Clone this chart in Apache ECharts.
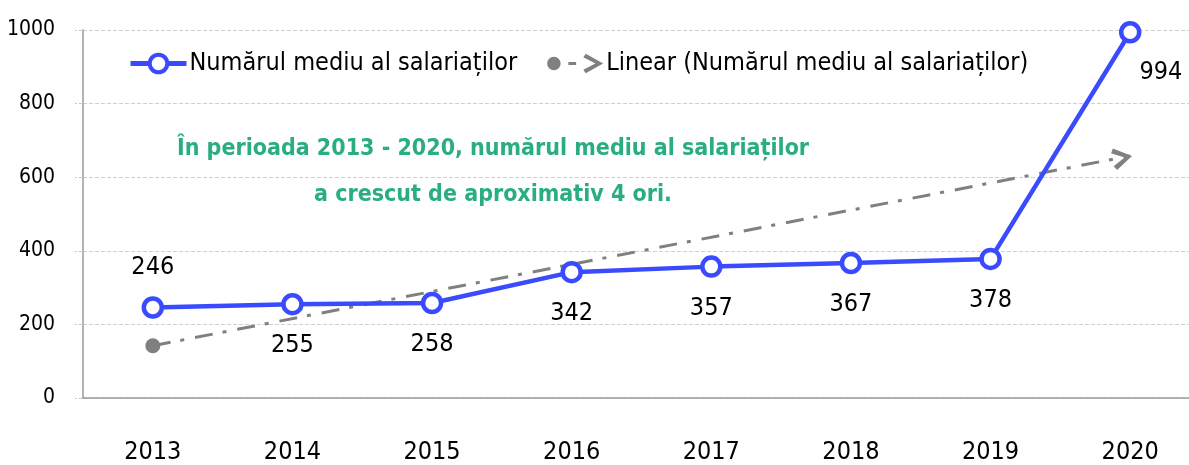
<!DOCTYPE html>
<html>
<head>
<meta charset="utf-8">
<script src="https://cdn.jsdelivr.net/npm/echarts@6/dist/echarts.min.js"></script>
<style>
html,body{margin:0;padding:0;background:#fff;}
#chart{width:1189px;height:465px;}
</style>
</head>
<body>
<div id="chart"></div>
<script>
// ---- data ----
const years = ['2013','2014','2015','2016','2017','2018','2019','2020'];
const employees = [246, 255, 258, 342, 357, 367, 378, 994];
// trend line end points (start 2013, end 2020)
const trendStart = 142;
const trendEnd = 658;
const yTicks = [0, 200, 400, 600, 800, 1000];
const seriesName = 'Numărul mediu al salariaților';
const trendName = 'Linear (Numărul mediu al salariaților)';
const noteLines = ['În perioada 2013 - 2020, numărul mediu al salariaților', 'a crescut de aproximativ 4 ori.'];

const FONT = '"DejaVu Sans Condensed", "DejaVu Sans", sans-serif';
const BLUE = '#3a4bff';
const GRAY = '#808080';
const GREEN = '#2aae80';

const chart = echarts.init(document.getElementById('chart'));

const trendData = years.map((y, i) => {
  if (i === 0) return { value: trendStart, symbol: 'circle', symbolSize: 15 };
  if (i === years.length - 1) return {
    value: trendEnd,
    symbol: 'path://M0,0 L16,9 L0,18 L-2.5,14.5 L9,9 L-2.5,3.5 Z',
    symbolSize: [20, 22],
    symbolRotate: 11,
    symbolOffset: [-8, 2]
  };
  return null;
});

const mainData = employees.map((v, i) => {
  let label;
  if (i === 0) label = { position: 'top', distance: 16 };
  else if (i === employees.length - 1) label = { position: 'right', offset: [-7, 40] };
  else label = { position: 'bottom', distance: 18 };
  return { value: v, label: label };
});

const option = {
  animation: false,
  grid: { left: 83, right: -11, top: 30, bottom: 67, outerBoundsMode: 'none', containLabel: false },
  legend: {
    left: 128, top: 51, width: 1100, padding: 0,
    itemWidth: 56, itemHeight: 22, itemGap: 30,
    textStyle: { fontFamily: FONT, fontSize: 25, color: '#000', padding: [0, 0, 0, -2] },
    data: [
      { name: seriesName, lineStyle: { width: 5 }, itemStyle: { borderWidth: 4 } },
      { name: trendName,
        icon: 'path://M0,10 A7,7 0 1,0 14,10 A7,7 0 1,0 0,10 Z M22,8.5 L30,8.5 L30,11.5 L22,11.5 Z M40,0 L58,10 L40,20 L37.5,16.5 L50,10 L37.5,3.5 Z',
        itemStyle: { color: GRAY, borderWidth: 0 } }
    ]
  },
  xAxis: {
    type: 'category',
    data: years,
    boundaryGap: true,
    axisLine: { lineStyle: { color: '#9a9a9a', width: 1.5 } },
    axisTick: { show: false },
    axisLabel: { fontFamily: FONT, fontSize: 25, color: '#000', margin: 42 }
  },
  yAxis: {
    type: 'value',
    min: yTicks[0], max: yTicks[yTicks.length - 1], interval: 200,
    axisLine: { show: true, lineStyle: { color: '#9a9a9a', width: 1.5 } },
    axisTick: { show: true, length: 8, lineStyle: { color: '#c8c8c8', type: 'dashed' } },
    splitLine: { lineStyle: { color: '#cfcfcf', type: 'dashed', width: 1 } },
    axisLabel: { fontFamily: FONT, fontSize: 21, color: '#000', margin: 28, formatter: v => String(v) }
  },
  graphic: [
    {
      type: 'text',
      x: 493, y: 172,
      style: {
        text: noteLines.join('\n'),
        align: 'center', verticalAlign: 'middle',
        fill: GREEN,
        font: 'bold 23px ' + FONT,
        lineHeight: 46
      }
    }
  ],
  series: [
    {
      name: trendName,
      type: 'line',
      data: trendData,
      connectNulls: true,
      showSymbol: true,
      itemStyle: { color: GRAY },
      lineStyle: { color: GRAY, width: 3, type: [18, 10, 4, 11] },
      z: 2,
      silent: true
    },
    {
      name: seriesName,
      type: 'line',
      data: mainData,
      symbol: 'circle',
      symbolSize: 18,
      itemStyle: { color: '#fff', borderColor: BLUE, borderWidth: 4.5 },
      lineStyle: { color: BLUE, width: 4.5 },
      label: { show: true, fontFamily: FONT, fontSize: 25, color: '#000' },
      z: 3
    }
  ]
};
chart.setOption(option);
</script>
</body>
</html>
